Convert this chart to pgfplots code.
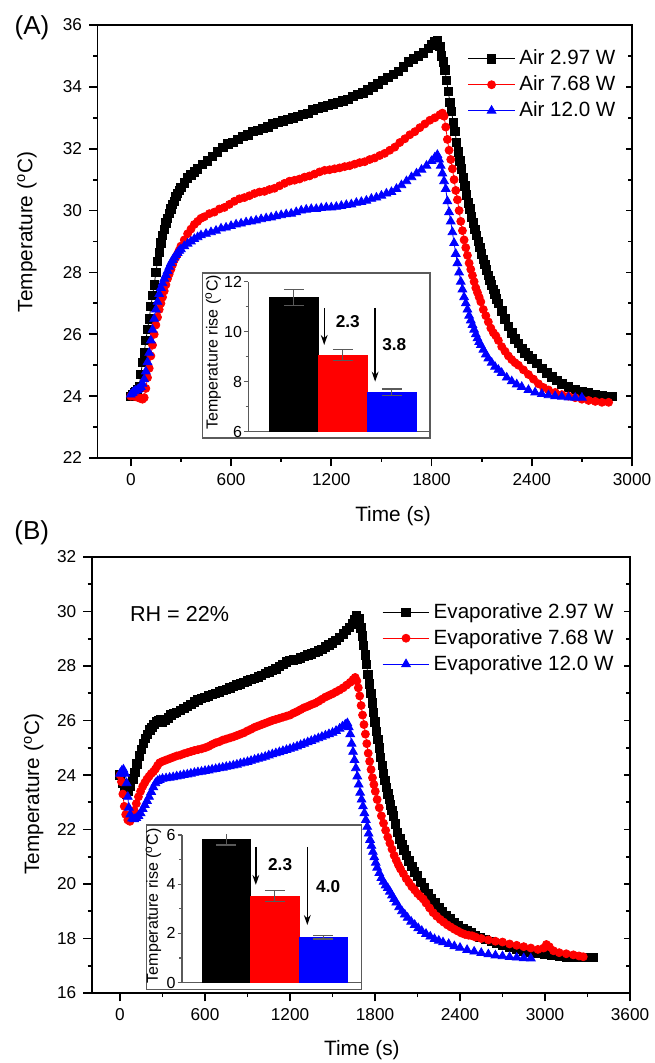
\documentclass[border=0pt]{standalone}
\usepackage{pgfplots}
\pgfplotsset{compat=1.18}
\usepackage{pgfplotstable}
\usepackage{fontspec}
\setmainfont{Liberation Sans}
\usetikzlibrary{arrows.meta}

\pgfplotstableread[row sep=\\]{x y\\
0 24.0\\ 10 24.05\\ 20 24.1\\ 30 24.15\\ 40 24.2\\ 50 24.3\\ 60 24.7\\ 70 25.1\\ 80 25.4\\ 90 25.8\\ 100 26.15\\ 110 26.5\\ 120 26.9\\ 130 27.25\\ 140 27.6\\ 150 28.0\\ 160 28.35\\ 170 28.65\\ 180 28.95\\ 190 29.2\\ 200 29.4\\ 210 29.6\\ 220 29.75\\ 230 29.9\\ 240 30.05\\ 250 30.2\\ 260 30.3\\ 270 30.45\\ 280 30.55\\ 290 30.65\\ 300 30.75\\ 320 30.9\\ 340 31.05\\ 360 31.15\\ 380 31.25\\ 400 31.35\\ 430 31.5\\ 460 31.6\\ 490 31.75\\ 520 31.9\\ 550 32.05\\ 580 32.15\\ 610 32.2\\ 640 32.3\\ 670 32.4\\ 700 32.45\\ 730 32.55\\ 760 32.6\\ 790 32.65\\ 820 32.7\\ 850 32.8\\ 880 32.85\\ 910 32.9\\ 940 32.95\\ 970 33.0\\ 1000 33.05\\ 1030 33.1\\ 1060 33.15\\ 1090 33.25\\ 1120 33.3\\ 1150 33.35\\ 1180 33.4\\ 1210 33.45\\ 1240 33.5\\ 1270 33.55\\ 1300 33.6\\ 1330 33.7\\ 1360 33.75\\ 1390 33.8\\ 1420 33.9\\ 1450 34.0\\ 1480 34.1\\ 1510 34.2\\ 1540 34.3\\ 1570 34.4\\ 1600 34.5\\ 1630 34.65\\ 1660 34.8\\ 1690 34.9\\ 1720 35.0\\ 1750 35.1\\ 1780 35.25\\ 1800 35.35\\ 1820 35.45\\ 1835 35.5\\ 1850 35.3\\ 1860 35.0\\ 1870 34.8\\ 1880 34.55\\ 1890 34.2\\ 1900 33.85\\ 1910 33.5\\ 1920 33.2\\ 1930 32.85\\ 1940 32.55\\ 1950 32.2\\ 1960 31.9\\ 1970 31.6\\ 1980 31.35\\ 1990 31.05\\ 2000 30.8\\ 2010 30.5\\ 2020 30.25\\ 2030 30.05\\ 2040 29.8\\ 2050 29.6\\ 2060 29.4\\ 2070 29.2\\ 2080 29.0\\ 2090 28.8\\ 2100 28.6\\ 2110 28.42\\ 2120 28.25\\ 2130 28.08\\ 2140 27.9\\ 2150 27.75\\ 2160 27.6\\ 2170 27.45\\ 2180 27.3\\ 2190 27.15\\ 2200 27.0\\ 2220 26.75\\ 2240 26.5\\ 2260 26.25\\ 2280 26.05\\ 2300 25.85\\ 2320 25.7\\ 2340 25.55\\ 2360 25.4\\ 2380 25.3\\ 2400 25.2\\ 2430 25.05\\ 2460 24.9\\ 2490 24.75\\ 2520 24.62\\ 2550 24.5\\ 2580 24.4\\ 2620 24.3\\ 2660 24.22\\ 2700 24.15\\ 2740 24.1\\ 2780 24.05\\ 2820 24.02\\ 2860 24.0\\ 2880 24.0\\
}\airA

\pgfplotstableread[row sep=\\]{x y\\
0 24.0\\ 15 24.0\\ 30 23.98\\ 45 23.95\\ 60 23.92\\ 70 23.9\\ 80 23.95\\ 90 24.25\\ 100 24.6\\ 110 24.9\\ 120 25.3\\ 130 25.65\\ 140 26.0\\ 150 26.3\\ 160 26.55\\ 170 26.8\\ 180 27.0\\ 190 27.2\\ 200 27.4\\ 210 27.6\\ 220 27.8\\ 230 27.95\\ 240 28.1\\ 250 28.25\\ 260 28.4\\ 270 28.5\\ 280 28.6\\ 290 28.72\\ 300 28.85\\ 320 29.05\\ 340 29.25\\ 360 29.4\\ 380 29.55\\ 400 29.65\\ 420 29.75\\ 440 29.8\\ 470 29.9\\ 500 29.95\\ 530 30.05\\ 560 30.1\\ 590 30.2\\ 620 30.3\\ 650 30.38\\ 680 30.42\\ 710 30.48\\ 740 30.55\\ 770 30.6\\ 800 30.62\\ 830 30.68\\ 860 30.72\\ 890 30.8\\ 920 30.88\\ 950 30.95\\ 980 30.98\\ 1010 31.02\\ 1040 31.08\\ 1070 31.12\\ 1100 31.18\\ 1130 31.25\\ 1160 31.3\\ 1190 31.32\\ 1220 31.35\\ 1250 31.38\\ 1280 31.42\\ 1310 31.45\\ 1340 31.5\\ 1370 31.55\\ 1400 31.58\\ 1430 31.65\\ 1460 31.7\\ 1490 31.78\\ 1520 31.85\\ 1550 31.95\\ 1580 32.05\\ 1610 32.2\\ 1640 32.32\\ 1670 32.45\\ 1700 32.55\\ 1730 32.68\\ 1760 32.8\\ 1790 32.92\\ 1820 33.0\\ 1850 33.1\\ 1865 33.15\\ 1875 33.05\\ 1885 32.7\\ 1895 32.3\\ 1905 31.95\\ 1915 31.65\\ 1925 31.35\\ 1935 31.0\\ 1945 30.65\\ 1955 30.35\\ 1965 30.0\\ 1975 29.65\\ 1985 29.35\\ 1995 29.05\\ 2005 28.8\\ 2015 28.55\\ 2025 28.3\\ 2035 28.1\\ 2045 27.9\\ 2055 27.7\\ 2065 27.5\\ 2075 27.35\\ 2085 27.2\\ 2095 27.05\\ 2110 26.8\\ 2125 26.6\\ 2140 26.4\\ 2155 26.2\\ 2170 26.05\\ 2185 25.95\\ 2200 25.8\\ 2220 25.6\\ 2240 25.45\\ 2260 25.3\\ 2280 25.18\\ 2300 25.08\\ 2320 25.0\\ 2350 24.85\\ 2380 24.7\\ 2410 24.55\\ 2440 24.4\\ 2470 24.28\\ 2500 24.2\\ 2540 24.12\\ 2580 24.05\\ 2620 24.0\\ 2660 23.95\\ 2700 23.9\\ 2740 23.86\\ 2780 23.83\\ 2820 23.8\\ 2860 23.8\\
}\airB

\pgfplotstableread[row sep=\\]{x y\\
0 24.05\\ 10 24.1\\ 20 24.15\\ 30 24.18\\ 40 24.2\\ 50 24.25\\ 60 24.3\\ 70 24.4\\ 80 24.55\\ 90 24.8\\ 100 25.1\\ 110 25.4\\ 120 25.8\\ 130 26.15\\ 140 26.5\\ 150 26.8\\ 160 27.05\\ 170 27.3\\ 180 27.5\\ 190 27.65\\ 200 27.8\\ 210 27.92\\ 220 28.05\\ 230 28.18\\ 240 28.3\\ 250 28.4\\ 260 28.48\\ 270 28.56\\ 280 28.63\\ 290 28.7\\ 300 28.75\\ 320 28.85\\ 340 28.93\\ 360 29.0\\ 380 29.08\\ 400 29.14\\ 420 29.2\\ 450 29.25\\ 480 29.3\\ 510 29.35\\ 540 29.42\\ 570 29.45\\ 600 29.5\\ 630 29.55\\ 660 29.58\\ 690 29.62\\ 720 29.65\\ 750 29.68\\ 780 29.72\\ 810 29.75\\ 840 29.78\\ 870 29.82\\ 900 29.85\\ 930 29.88\\ 960 29.9\\ 990 29.95\\ 1020 30.0\\ 1050 30.03\\ 1080 30.05\\ 1110 30.05\\ 1140 30.08\\ 1170 30.1\\ 1200 30.1\\ 1230 30.12\\ 1260 30.15\\ 1290 30.18\\ 1320 30.2\\ 1350 30.25\\ 1380 30.28\\ 1410 30.32\\ 1440 30.38\\ 1470 30.42\\ 1500 30.48\\ 1530 30.55\\ 1560 30.6\\ 1590 30.7\\ 1620 30.82\\ 1650 30.95\\ 1680 31.08\\ 1710 31.2\\ 1740 31.32\\ 1770 31.45\\ 1800 31.6\\ 1820 31.72\\ 1835 31.8\\ 1845 31.65\\ 1855 31.45\\ 1865 31.2\\ 1875 30.95\\ 1885 30.7\\ 1895 30.3\\ 1905 29.95\\ 1915 29.65\\ 1925 29.3\\ 1935 28.95\\ 1945 28.6\\ 1955 28.3\\ 1965 28.0\\ 1975 27.7\\ 1985 27.45\\ 1995 27.2\\ 2005 27.0\\ 2015 26.8\\ 2025 26.6\\ 2035 26.45\\ 2045 26.3\\ 2055 26.15\\ 2065 26.0\\ 2075 25.87\\ 2085 25.75\\ 2095 25.65\\ 2110 25.5\\ 2125 25.35\\ 2140 25.22\\ 2160 25.08\\ 2180 24.95\\ 2200 24.85\\ 2220 24.75\\ 2250 24.6\\ 2280 24.48\\ 2310 24.38\\ 2340 24.3\\ 2380 24.2\\ 2420 24.12\\ 2460 24.07\\ 2500 24.03\\ 2540 24.0\\ 2580 23.98\\ 2620 23.96\\ 2660 23.95\\ 2700 23.95\\
}\airC

\pgfplotstableread[row sep=\\]{x y\\
0 24.0\\ 15 23.7\\ 30 23.4\\ 45 23.3\\ 60 23.4\\ 75 23.6\\ 90 23.85\\ 105 24.1\\ 120 24.4\\ 135 24.7\\ 150 24.95\\ 165 25.15\\ 180 25.35\\ 195 25.5\\ 210 25.65\\ 225 25.75\\ 240 25.85\\ 255 25.95\\ 270 26.0\\ 285 26.02\\ 300 25.95\\ 320 26.0\\ 340 26.1\\ 360 26.2\\ 380 26.25\\ 400 26.3\\ 425 26.38\\ 450 26.45\\ 475 26.52\\ 500 26.6\\ 525 26.68\\ 550 26.75\\ 575 26.8\\ 600 26.85\\ 625 26.9\\ 650 26.95\\ 675 27.0\\ 700 27.05\\ 725 27.1\\ 750 27.15\\ 775 27.2\\ 800 27.25\\ 825 27.3\\ 850 27.35\\ 875 27.4\\ 900 27.45\\ 925 27.5\\ 950 27.55\\ 975 27.6\\ 1000 27.65\\ 1025 27.72\\ 1050 27.78\\ 1075 27.84\\ 1100 27.9\\ 1125 27.98\\ 1150 28.05\\ 1175 28.15\\ 1200 28.2\\ 1225 28.22\\ 1250 28.25\\ 1275 28.3\\ 1300 28.35\\ 1325 28.4\\ 1350 28.45\\ 1375 28.5\\ 1400 28.55\\ 1425 28.62\\ 1450 28.7\\ 1475 28.78\\ 1500 28.85\\ 1525 28.95\\ 1550 29.05\\ 1575 29.18\\ 1600 29.3\\ 1620 29.42\\ 1640 29.55\\ 1655 29.7\\ 1670 29.85\\ 1690 29.75\\ 1700 29.4\\ 1710 29.1\\ 1720 28.75\\ 1730 28.4\\ 1740 28.05\\ 1750 27.7\\ 1760 27.35\\ 1770 27.0\\ 1780 26.65\\ 1790 26.3\\ 1800 25.95\\ 1810 25.6\\ 1820 25.3\\ 1830 25.0\\ 1840 24.65\\ 1850 24.35\\ 1860 24.05\\ 1870 23.8\\ 1880 23.55\\ 1890 23.3\\ 1900 23.1\\ 1910 22.9\\ 1920 22.7\\ 1930 22.5\\ 1945 22.2\\ 1960 21.9\\ 1975 21.65\\ 1990 21.45\\ 2005 21.25\\ 2020 21.05\\ 2040 20.85\\ 2060 20.65\\ 2080 20.45\\ 2100 20.3\\ 2125 20.05\\ 2150 19.85\\ 2175 19.65\\ 2200 19.45\\ 2225 19.3\\ 2250 19.15\\ 2275 19.0\\ 2300 18.85\\ 2330 18.72\\ 2360 18.6\\ 2390 18.48\\ 2420 18.38\\ 2450 18.28\\ 2480 18.2\\ 2510 18.12\\ 2540 18.05\\ 2580 17.97\\ 2620 17.9\\ 2660 17.82\\ 2700 17.75\\ 2750 17.68\\ 2800 17.6\\ 2850 17.55\\ 2900 17.5\\ 2950 17.45\\ 3000 17.42\\ 3050 17.38\\ 3100 17.35\\ 3150 17.33\\ 3200 17.32\\ 3250 17.3\\ 3300 17.3\\ 3340 17.3\\
}\evaA

\pgfplotstableread[row sep=\\]{x y\\
0 24.0\\ 10 23.75\\ 20 23.3\\ 30 22.85\\ 40 22.55\\ 55 22.35\\ 70 22.3\\ 85 22.45\\ 100 22.7\\ 115 22.95\\ 130 23.2\\ 145 23.4\\ 160 23.58\\ 175 23.72\\ 190 23.85\\ 205 23.95\\ 220 24.05\\ 235 24.12\\ 250 24.22\\ 265 24.35\\ 280 24.45\\ 300 24.5\\ 325 24.55\\ 350 24.6\\ 375 24.65\\ 400 24.7\\ 425 24.73\\ 450 24.78\\ 475 24.82\\ 500 24.86\\ 525 24.9\\ 550 24.93\\ 575 24.96\\ 600 25.0\\ 625 25.05\\ 650 25.12\\ 675 25.18\\ 700 25.22\\ 725 25.28\\ 750 25.32\\ 775 25.36\\ 800 25.4\\ 825 25.45\\ 850 25.5\\ 875 25.55\\ 900 25.62\\ 925 25.68\\ 950 25.75\\ 975 25.8\\ 1000 25.85\\ 1025 25.9\\ 1050 25.95\\ 1075 26.0\\ 1100 26.04\\ 1125 26.08\\ 1150 26.12\\ 1175 26.16\\ 1200 26.2\\ 1225 26.27\\ 1250 26.33\\ 1275 26.4\\ 1300 26.47\\ 1325 26.52\\ 1350 26.58\\ 1375 26.63\\ 1400 26.7\\ 1425 26.78\\ 1450 26.86\\ 1475 26.92\\ 1500 26.98\\ 1525 27.05\\ 1550 27.12\\ 1575 27.2\\ 1600 27.3\\ 1625 27.4\\ 1645 27.5\\ 1660 27.58\\ 1672 27.45\\ 1682 27.2\\ 1692 26.9\\ 1702 26.55\\ 1712 26.2\\ 1722 25.85\\ 1732 25.5\\ 1742 25.15\\ 1752 24.8\\ 1762 24.5\\ 1772 24.2\\ 1782 23.9\\ 1792 23.65\\ 1802 23.4\\ 1815 23.1\\ 1830 22.8\\ 1845 22.5\\ 1860 22.23\\ 1875 21.97\\ 1890 21.72\\ 1905 21.5\\ 1920 21.28\\ 1935 21.05\\ 1950 20.87\\ 1965 20.7\\ 1980 20.55\\ 2000 20.38\\ 2020 20.2\\ 2040 20.05\\ 2060 19.9\\ 2080 19.78\\ 2100 19.65\\ 2120 19.55\\ 2140 19.45\\ 2160 19.3\\ 2185 19.12\\ 2210 18.95\\ 2235 18.82\\ 2260 18.7\\ 2285 18.6\\ 2310 18.5\\ 2335 18.42\\ 2360 18.34\\ 2385 18.27\\ 2410 18.2\\ 2435 18.15\\ 2460 18.12\\ 2485 18.1\\ 2510 18.05\\ 2550 18.0\\ 2600 17.95\\ 2650 17.9\\ 2700 17.87\\ 2750 17.8\\ 2800 17.75\\ 2850 17.7\\ 2900 17.65\\ 2950 17.6\\ 2990 17.65\\ 3010 17.78\\ 3030 17.7\\ 3060 17.55\\ 3100 17.48\\ 3150 17.44\\ 3200 17.4\\ 3240 17.36\\ 3270 17.33\\
}\evaB

\pgfplotstableread[row sep=\\]{x y\\
0 24.05\\ 12 24.15\\ 24 24.2\\ 36 24.05\\ 47 23.7\\ 55 23.2\\ 62 22.8\\ 72 22.55\\ 85 22.4\\ 100 22.38\\ 115 22.42\\ 130 22.5\\ 145 22.6\\ 160 22.75\\ 175 22.9\\ 190 23.05\\ 205 23.2\\ 220 23.38\\ 235 23.55\\ 250 23.7\\ 265 23.78\\ 280 23.82\\ 300 23.86\\ 325 23.88\\ 350 23.9\\ 375 23.92\\ 400 23.95\\ 425 23.97\\ 450 24.0\\ 475 24.02\\ 500 24.05\\ 525 24.08\\ 550 24.1\\ 575 24.12\\ 600 24.15\\ 625 24.17\\ 650 24.2\\ 675 24.22\\ 700 24.25\\ 725 24.27\\ 750 24.3\\ 775 24.32\\ 800 24.35\\ 825 24.38\\ 850 24.42\\ 875 24.45\\ 900 24.48\\ 925 24.52\\ 950 24.56\\ 975 24.6\\ 1000 24.63\\ 1025 24.67\\ 1050 24.72\\ 1075 24.76\\ 1100 24.8\\ 1125 24.84\\ 1150 24.88\\ 1175 24.92\\ 1200 24.96\\ 1225 25.0\\ 1250 25.05\\ 1275 25.1\\ 1300 25.15\\ 1325 25.2\\ 1350 25.25\\ 1375 25.3\\ 1400 25.35\\ 1425 25.4\\ 1450 25.45\\ 1475 25.5\\ 1500 25.55\\ 1525 25.62\\ 1550 25.7\\ 1570 25.78\\ 1590 25.85\\ 1605 25.9\\ 1615 25.75\\ 1625 25.5\\ 1635 25.15\\ 1645 24.85\\ 1655 24.55\\ 1665 24.25\\ 1675 23.95\\ 1685 23.65\\ 1695 23.35\\ 1705 23.1\\ 1715 22.85\\ 1725 22.6\\ 1735 22.35\\ 1745 22.1\\ 1755 21.85\\ 1765 21.62\\ 1775 21.4\\ 1785 21.18\\ 1795 20.98\\ 1805 20.78\\ 1815 20.6\\ 1830 20.4\\ 1845 20.22\\ 1860 20.08\\ 1875 19.95\\ 1890 19.85\\ 1905 19.72\\ 1920 19.58\\ 1935 19.45\\ 1950 19.32\\ 1970 19.15\\ 1990 19.0\\ 2010 18.88\\ 2030 18.76\\ 2055 18.62\\ 2080 18.5\\ 2105 18.38\\ 2130 18.28\\ 2160 18.17\\ 2190 18.07\\ 2220 17.98\\ 2250 17.92\\ 2280 17.86\\ 2320 17.8\\ 2360 17.72\\ 2400 17.66\\ 2450 17.58\\ 2500 17.52\\ 2550 17.47\\ 2600 17.42\\ 2650 17.38\\ 2700 17.35\\ 2750 17.32\\ 2800 17.3\\ 2850 17.28\\ 2900 17.27\\
}\evaC

\definecolor{myred}{RGB}{255,0,0}
\definecolor{myblue}{RGB}{0,0,255}
\definecolor{errgray}{RGB}{90,90,90}

\pgfplotsset{
  mainax/.style={
    anchor=south west, scale only axis,
    /pgf/number format/assume math mode=true,
    /pgf/number format/1000 sep={},
    scaled ticks=false,
    xtick pos=left, ytick pos=left,
    tick align=outside,
    major tick length=4.2pt, minor tick length=2pt,
    minor x tick num=1, minor y tick num=1,
    axis line style={line width=0.9pt},
    every tick/.append style={line width=0.9pt, black},
    tick label style={font=\fontsize{8.6}{10}\selectfont},
    label style={font=\fontsize{10.4}{12}\selectfont},
    legend cell align=left,
    legend image code/.code={\draw[mark repeat=2,mark phase=2] plot coordinates {(0pt,0pt) (11.65pt,0pt) (23.3pt,0pt)};},
  },
  rightax/.style={
    anchor=south west, scale only axis,
    axis x line=none, axis y line*=right,
    tick align=inside, yticklabels={},
    minor y tick num=1,
    major tick length=3pt, minor tick length=2pt,
    axis line style={line width=0.9pt},
    every tick/.append style={line width=0.9pt, black},
  },
  sA/.style={black, line width=0.4pt, mark=square*, mark size=2.1pt, mark options={solid, fill=black}},
  sB/.style={myred, line width=0.4pt, mark=*, mark size=2.0pt, mark options={solid, fill=myred}},
  sC/.style={myblue, line width=0.4pt, mark=triangle*, mark size=2.5pt, mark options={solid, fill=myblue}},
  insetax/.style={
    anchor=south west, scale only axis,
    /pgf/number format/assume math mode=true,
    axis x line*=bottom, axis y line*=left,
    xtick=\empty, tick align=outside,
    minor y tick num=1,
    major tick length=2.2pt, minor tick length=1.3pt,
    axis line style={line width=0.6pt, errgray},
    every tick/.append style={line width=0.6pt, errgray},
    tick label style={font=\fontsize{8}{9}\selectfont},
    yticklabel style={inner xsep=0.8pt},
    label style={font=\fontsize{8}{9}\selectfont},
  },
  barst/.style={ybar, bar width=1, bar shift=0pt, fill=#1, draw=#1,
    error bars/.cd, y dir=both, y explicit,
    error bar style={line width=0.6pt, errgray},
    error mark options={rotate=90, mark size=5pt, line width=0.6pt, errgray}},
}

\begin{document}
\begin{tikzpicture}
\useasboundingbox (0,0) rectangle (327pt,531.5pt);

% ---------------- Panel A ----------------
\begin{axis}[mainax,
  at={(48.7pt,302.5pt)}, width=267.3pt, height=216.5pt,
  xmin=-200, xmax=3000, ymin=22, ymax=36,
  xtick={0,600,...,3000}, ytick={22,24,...,36},
  xlabel={Time (s)}, ylabel={Temperature (\textsuperscript{o}C)},
  xlabel style={at={(axis description cs:0.553,0)}, anchor=center, yshift=-29.3pt},
  ylabel style={at={(axis description cs:-0.1317,0.522)}, anchor=center},
  legend style={at={(0.681,0.962)}, anchor=north west, draw=none, fill=none,
    font=\fontsize{10.3}{12.4}\selectfont},
]
\addplot[sA] table[x=x,y=y] {\airA}; \addlegendentry{Air 2.97 W}
\addplot[sB] table[x=x,y=y] {\airB}; \addlegendentry{Air 7.68 W}
\addplot[sC] table[x=x,y=y] {\airC}; \addlegendentry{Air 12.0 W}
\end{axis}
\begin{axis}[rightax, at={(48.7pt,302.5pt)}, width=267.3pt, height=216.5pt,
  xmin=-200, xmax=3000, ymin=22, ymax=36, ytick={22,24,...,36}]
\end{axis}

% inset A
\draw[errgray, line width=0.6pt] (101.25pt,312.5pt) rectangle (215pt,395pt);
\begin{axis}[insetax,
  at={(124.15pt,315.65pt)}, width=90.85pt, height=75pt,
  xmin=0.07, xmax=3.78, ymin=6, ymax=12, ytick={6,8,10,12},
  ylabel={Temperature rise (\textsuperscript{o}C)},
  ylabel style={at={(axis description cs:-0.193,0.53)}, anchor=center},
]
\addplot[barst=black] coordinates {(1,11.36) +- (0,0.32)};
\addplot[barst=myred] coordinates {(2,9.07) +- (0,0.22)};
\addplot[barst=myblue] coordinates {(3,7.58) +- (0,0.13)};
\draw[-{Stealth[length=5pt,width=3.4pt]}, line width=0.7pt] (axis cs:1.62,10.94) -- (axis cs:1.62,9.47);
\draw[-{Stealth[length=5pt,width=3.4pt]}, line width=0.7pt] (axis cs:2.66,10.95) -- (axis cs:2.66,8.0);
\node[font=\bfseries\fontsize{8.6}{10}\selectfont] at (axis cs:2.1,10.4) {2.3};
\node[font=\bfseries\fontsize{8.6}{10}\selectfont] at (axis cs:3.05,9.47) {3.8};
\end{axis}

\node[font=\fontsize{13}{15}\selectfont] at (16pt,517.5pt) {(A)};

% ---------------- Panel B ----------------
\begin{axis}[mainax,
  at={(45.85pt,35pt)}, width=269.15pt, height=218pt,
  xmin=-200, xmax=3600, ymin=16, ymax=32,
  xtick={0,600,...,3600}, ytick={16,18,...,32},
  xlabel={Time (s)}, ylabel={Temperature (\textsuperscript{o}C)},
  xlabel style={at={(axis description cs:0.502,0)}, anchor=center, yshift=-28.5pt},
  ylabel style={at={(axis description cs:-0.1078,0.456)}, anchor=center},
  legend style={at={(0.528,0.913)}, anchor=north west, draw=none, fill=none,
    font=\fontsize{10.3}{12.2}\selectfont},
]
\addplot[sA] table[x=x,y=y] {\evaA}; \addlegendentry{Evaporative 2.97 W}
\addplot[sB] table[x=x,y=y] {\evaB}; \addlegendentry{Evaporative 7.68 W}
\addplot[sC] table[x=x,y=y] {\evaC}; \addlegendentry{Evaporative 12.0 W}
\node[font=\fontsize{10.8}{13}\selectfont] at (axis cs:420,29.9) {RH = 22\%};
\end{axis}
\begin{axis}[rightax, at={(45.85pt,35pt)}, width=269.15pt, height=218pt,
  xmin=-200, xmax=3600, ymin=16, ymax=32, ytick={16,18,...,32}]
\end{axis}

% inset B
\draw[errgray, line width=0.6pt] (73.2pt,36.85pt) rectangle (180.85pt,119pt);
\begin{axis}[insetax,
  at={(91pt,40.2pt)}, width=89.85pt, height=73.8pt,
  xmin=0.09, xmax=3.79, ymin=0, ymax=6, ytick={0,2,4,6},
  ylabel={Temperature rise (\textsuperscript{o}C)},
  ylabel style={at={(axis description cs:-0.159,0.52)}, anchor=center},
]
\addplot[barst=black] coordinates {(1,5.83) +- (0,0.24)};
\addplot[barst=myred] coordinates {(2,3.52) +- (0,0.23)};
\addplot[barst=myblue] coordinates {(3,1.84) +- (0,0.07)};
\draw[-{Stealth[length=5pt,width=3.4pt]}, line width=0.7pt] (axis cs:1.61,5.52) -- (axis cs:1.61,3.97);
\draw[-{Stealth[length=5pt,width=3.4pt]}, line width=0.7pt] (axis cs:2.67,5.52) -- (axis cs:2.67,2.34);
\node[font=\bfseries\fontsize{8.6}{10}\selectfont] at (axis cs:2.11,4.78) {2.3};
\node[font=\bfseries\fontsize{8.6}{10}\selectfont] at (axis cs:3.1,3.9) {4.0};
\end{axis}

\node[font=\fontsize{13}{15}\selectfont] at (15.85pt,265pt) {(B)};
\end{tikzpicture}
\end{document}
